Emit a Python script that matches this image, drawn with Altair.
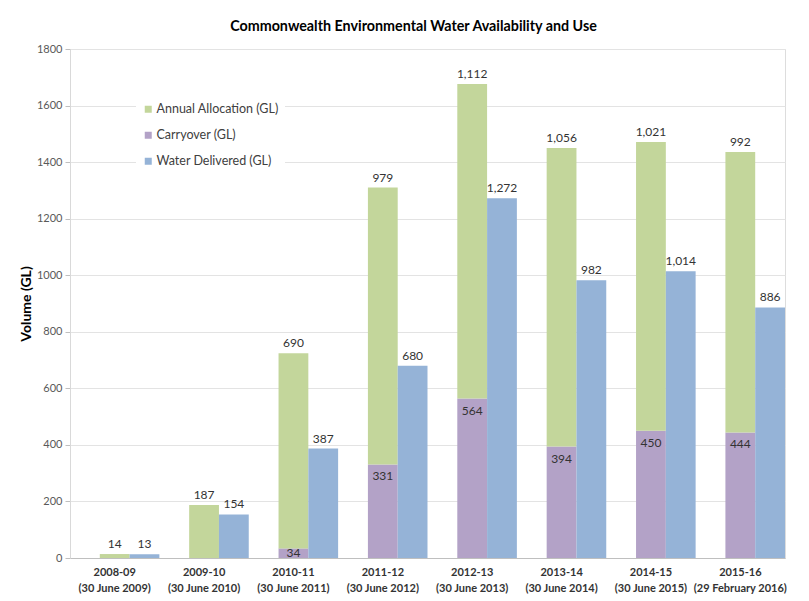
import altair as alt
import pandas as pd

years = ["2008-09", "2009-10", "2010-11", "2011-12", "2012-13", "2013-14", "2014-15", "2015-16"]
periods = ["(30 June 2009)", "(30 June 2010)", "(30 June 2011)", "(30 June 2012)",
           "(30 June 2013)", "(30 June 2014)", "(30 June 2015)", "(29 February 2016)"]
allocation = [14, 187, 690, 979, 1112, 1056, 1021, 992]
carryover = [0, 0, 34, 331, 564, 394, 450, 444]
delivered = [13, 154, 387, 680, 1272, 982, 1014, 886]
series = ["Annual Allocation (GL)", "Carryover (GL)", "Water Delivered (GL)"]
colors = ["#c3d69b", "#b3a2c7", "#95b3d7"]
slots = ["blank", "stack", "delivered"]

cats = [y + "|" + p for y, p in zip(years, periods)]
rows = []
for i, c in enumerate(cats):
    rows.append(dict(cat=c, series=series[1], slot="stack", lo=0, hi=carryover[i], val=carryover[i]))
    rows.append(dict(cat=c, series=series[0], slot="stack", lo=carryover[i],
                     hi=carryover[i] + allocation[i], val=allocation[i]))
    rows.append(dict(cat=c, series=series[2], slot="delivered", lo=0, hi=delivered[i], val=delivered[i]))
df = pd.DataFrame(rows)

FONT = "Lato"

x_enc = alt.X("cat:N", sort=cats,
              scale=alt.Scale(paddingInner=0, paddingOuter=0),
              axis=alt.Axis(title=None, labelExpr="split(datum.label, '|')", labelAngle=0,
                            labelFont=FONT, labelFontWeight="bold", labelFontSize=11,
                            labelColor="#333333", labelLineHeight=16, labelPadding=8,
                            ticks=False, domainColor="#bfbfbf", grid=False))
xo_enc = alt.XOffset("slot:N", scale=alt.Scale(domain=slots, paddingInner=0, paddingOuter=0))

base = alt.Chart(df)

bars = base.mark_bar(stroke=None).encode(
    x=x_enc,
    xOffset=xo_enc,
    y=alt.Y("lo:Q", scale=alt.Scale(domain=[0, 1800], nice=False),
            axis=alt.Axis(title="Volume (GL)", values=list(range(0, 1801, 200)), format="d",
                          titleFont=FONT, titleFontSize=14, titleFontWeight="bold",
                          titleColor="#000000", titlePadding=3,
                          labelFont=FONT, labelFontSize=11, labelColor="#595959",
                          labelPadding=3, tickSize=5, tickColor="#bfbfbf",
                          domainColor="#d9d9d9", gridColor="#e3e3e3")),
    y2="hi:Q",
    color=alt.Color("series:N", scale=alt.Scale(domain=series, range=colors),
                    legend=alt.Legend(title=None, orient="none", legendX=66, legendY=48,
                                      fillColor="white", padding=6, symbolType="square",
                                      symbolSize=49, symbolStrokeWidth=0,
                                      labelFont=FONT, labelFontSize=12.5, labelColor="#404040",
                                      rowPadding=13, labelOffset=2)),
)

text_style = dict(font=FONT, fontSize=12, color="#333333")

alloc_text = base.transform_filter(alt.datum.series == series[0]).mark_text(
    baseline="bottom", dy=-3, **text_style).encode(
    x=x_enc, xOffset=xo_enc, y="hi:Q", text=alt.Text("val:Q", format=","))

carry_text = base.transform_filter(
    (alt.datum.series == series[1]) & (alt.datum.val >= 100)).mark_text(
    baseline="top", dy=7, **text_style).encode(
    x=x_enc, xOffset=xo_enc, y="hi:Q", text=alt.Text("val:Q", format=","))

carry_text_small = base.transform_filter(
    (alt.datum.series == series[1]) & (alt.datum.val > 0) & (alt.datum.val < 100)).mark_text(
    baseline="top", dy=0, **text_style).encode(
    x=x_enc, xOffset=xo_enc, y="hi:Q", text=alt.Text("val:Q", format=","))

deliv_text = base.transform_filter(alt.datum.series == series[2]).mark_text(
    baseline="bottom", dy=-3, **text_style).encode(
    x=x_enc, xOffset=xo_enc, y="hi:Q", text=alt.Text("val:Q", format=","))

chart = alt.layer(bars, alloc_text, carry_text, carry_text_small, deliv_text).properties(
    width=715, height=509,
    title=alt.TitleParams("Commonwealth Environmental Water Availability and Use",
                          font=FONT, fontSize=14.3, fontWeight="bold", color="#000000",
                          anchor="middle", baseline="bottom", offset=-5, dx=-14),
    autosize=alt.AutoSizeParams(type="none"),
    padding={"left": 70, "top": 49, "right": 24, "bottom": 43},
).configure_view(stroke=None).configure(background="white")

chart.save("out.html", embed_options={"renderer": "svg", "actions": False})
